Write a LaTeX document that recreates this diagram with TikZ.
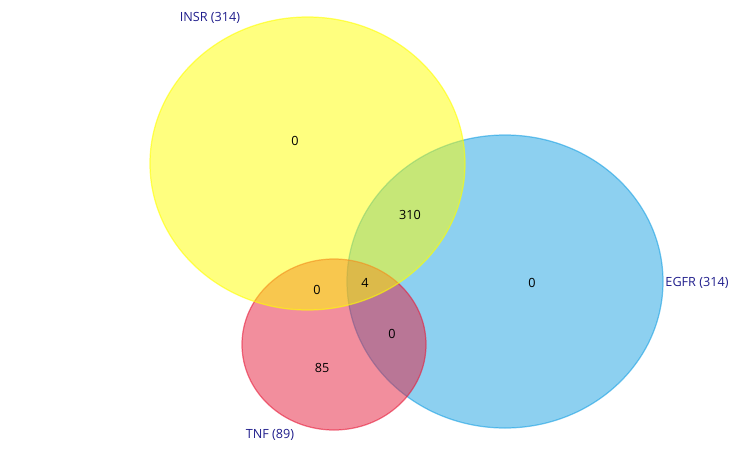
\documentclass[tikz,border=0pt]{standalone}
\usepackage{fontspec}
\setmainfont{Open Sans}
\definecolor{insryellow}{RGB}{255,255,0}
\definecolor{egfrblue}{RGB}{27,161,226}
\definecolor{tnfred}{RGB}{230,30,60}
\definecolor{setname}{RGB}{32,30,140}
\tikzset{
  every picture/.style={
    x=0.02cm, y=-0.02cm,
    font=\fontsize{7.2}{8}\selectfont
  },
  venn/.style={
    fill=#1, fill opacity=0.5,
    draw=#1, draw opacity=0.6, line width=0.7pt
  },
  count/.style={text=black, inner sep=1pt},
  setlabel/.style={text=setname, inner sep=1pt}
}

\begin{document}
\begin{tikzpicture}
  \useasboundingbox (0,0) rectangle (750,450);
  % sets
  \draw[venn=egfrblue] (505,281.5) ellipse [x radius=158, y radius=146.5];
  \draw[venn=tnfred] (334,344.5) ellipse [x radius=92, y radius=85.5];
  \draw[venn=insryellow] (307.5,163.5) ellipse [x radius=157.5, y radius=146.5];
  % set names
  \node[setlabel] (insr) at (210,18) {INSR (314)};
  \node[setlabel] (egfr) at (697,283) {EGFR (314)};
  \node[setlabel] (tnf) at (270,435) {TNF (89)};
  % region counts
  \node[count] (insronly) at (295,141) {0};
  \node[count] (insregfr) at (410,215) {310};
  \node[count] (egfronly) at (532,283) {0};
  \node[count] (insrtnf) at (317,290) {0};
  \node[count] (all) at (365,283) {4};
  \node[count] (egfrtnf) at (392,334) {0};
  \node[count] (tnfonly) at (322,368) {85};
\end{tikzpicture}
\end{document}
